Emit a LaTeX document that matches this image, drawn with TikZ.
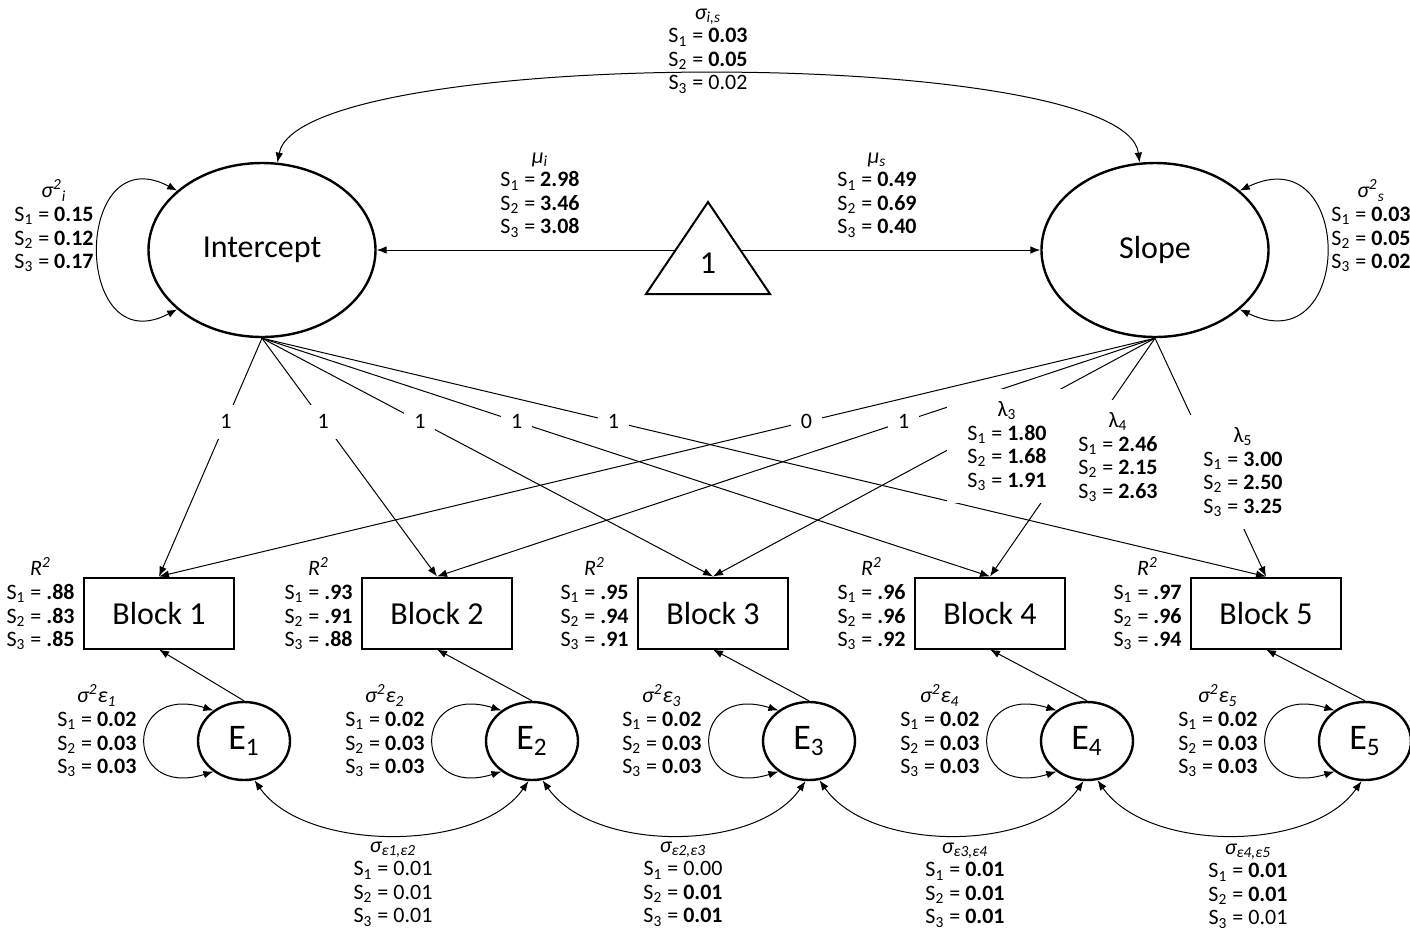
\documentclass[tikz,border=0pt]{standalone}
\usepackage{fontspec}
\setmainfont{Carlito}
\usepackage{tikz}
\usetikzlibrary{arrows.meta,shapes.geometric,positioning}

\newcommand{\sval}[2]{S\textsubscript{#1} = \textbf{#2}}
\newcommand{\sreg}[2]{S\textsubscript{#1} = #2}

\begin{document}
\begin{tikzpicture}[x=0.5pt, y=-0.5pt, >={Latex[length=5pt,width=3.8pt]},
  latent/.style={draw, ellipse, line width=1.2pt, minimum width=113.5pt, minimum height=87pt, inner sep=0pt, font=\fontsize{16}{18}\selectfont},
  block/.style={draw, rectangle, line width=1pt, minimum width=75pt, minimum height=35.5pt, inner sep=0pt, font=\fontsize{16}{18}\selectfont},
  err/.style={draw, ellipse, line width=1.2pt, minimum width=46pt, minimum height=39pt, inner sep=0pt, font=\fontsize{18}{20}\selectfont},
  est/.style={align=center, font=\fontsize{11}{11.8}\selectfont, inner sep=1pt},
  lam/.style={est, fill=white, inner xsep=10pt, inner ysep=6pt},
  load/.style={->, line width=0.5pt},
  cov/.style={<->, line width=0.5pt},
  wt/.style={fill=white, font=\fontsize{11}{13}\selectfont, inner sep=5pt}]
\useasboundingbox (0,0) rectangle (1410,933);
%%%%% Latent factors %%%%%
\node[latent] (icpt) at (262,250) {Intercept};
\node[latent] (slope) at (1155,250) {Slope};
\draw[line width=1pt] (708,202) -- (646,294) -- (770,294) -- cycle;
\node[font=\fontsize{16}{18}\selectfont] (one) at (708,263) {1};
\coordinate (triL) at (676,250);
\coordinate (triR) at (740,250);
%%%%% Blocks and errors %%%%%
\foreach \i/\x in {1/159,2/437,3/713,4/990,5/1266}
  \node[block] (b\i) at (\x,613) {Block \i};
\foreach \i/\x in {1/244,2/532,3/809,4/1087,5/1365}
  \node[err] (e\i) at (\x,741) {E\textsubscript{\i}};
%%%%% Means and variances %%%%%
\draw[load] (triL) -- (icpt.east);
\draw[load] (triR) -- (slope.west);
\draw[cov] (icpt.80) .. controls (300,45) and (1125,45) .. (slope.100);
\draw[cov] (icpt.145) .. controls +(-105,-55) and +(-105,55) .. (icpt.215);
\draw[cov] (slope.35) .. controls +(115,-55) and +(115,55) .. (slope.-35);
%%%%% Loadings %%%%%
\foreach \i in {1,...,5}
  \draw[load] (icpt.south) -- node[wt, pos=.35] {1} (b\i.north);
\draw[load] (slope.south) -- node[wt, pos=.35] {0} (b1.north);
\draw[load] (slope.south) -- node[wt, pos=.35] {1} (b2.north);
\foreach \i in {3,4,5}
  \draw[load] (slope.south) -- (b\i.north);
%%%%% Residuals %%%%%
\foreach \i in {1,...,5}{
  \draw[load] (e\i.north) -- (b\i.south);
  \draw[cov] (e\i.135) .. controls +(-90,-28) and +(-90,28) .. (e\i.225);
}
\foreach \i/\j in {1/2,2/3,3/4,4/5}
  \draw[cov] (e\i.-75) .. controls +(50,72) and +(-50,72) .. (e\j.-95);
%%%%% Estimates %%%%%
\node[est] (cis) at (708,51) {\textit{σ\textsubscript{i,s}}\\ \sval{1}{0.03}\\ \sval{2}{0.05}\\ \sreg{3}{0.02}};
\node[est] (vi) at (54,226) {\textit{σ\textsuperscript{2}\textsubscript{i}}\\ \sval{1}{0.15}\\ \sval{2}{0.12}\\ \sval{3}{0.17}};
\node[est] (mi) at (540,195) {\textit{μ\textsubscript{i}}\\ \sval{1}{2.98}\\ \sval{2}{3.46}\\ \sval{3}{3.08}};
\node[est] (ms) at (877,195) {\textit{μ\textsubscript{s}}\\ \sval{1}{0.49}\\ \sval{2}{0.69}\\ \sval{3}{0.40}};
\node[est] (vs) at (1371,226) {\textit{σ\textsuperscript{2}\textsubscript{s}}\\ \sval{1}{0.03}\\ \sval{2}{0.05}\\ \sval{3}{0.02}};
\node[lam] (l3) at (1007,446) {λ\textsubscript{3}\\ \sval{1}{1.80}\\ \sval{2}{1.68}\\ \sval{3}{1.91}};
\node[lam] (l4) at (1118,457) {λ\textsubscript{4}\\ \sval{1}{2.46}\\ \sval{2}{2.15}\\ \sval{3}{2.63}};
\node[lam] (l5) at (1243,472) {λ\textsubscript{5}\\ \sval{1}{3.00}\\ \sval{2}{2.50}\\ \sval{3}{3.25}};
\foreach \i/\a/\b/\c in {1/.88/.83/.85,2/.93/.91/.88,3/.95/.94/.91,4/.96/.96/.92,5/.97/.96/.94}
  \node[est, left=3pt of b\i, yshift=4.5pt] (r\i) {\textit{R\textsuperscript{2}}\\ \sval{1}{\a}\\ \sval{2}{\b}\\ \sval{3}{\c}};
\foreach \i in {1,...,5}
  \node[est, left=29pt of e\i, yshift=5pt] (ve\i) {\textit{σ\textsuperscript{2}ε\textsubscript{\i}}\\ \sval{1}{0.02}\\ \sval{2}{0.03}\\ \sval{3}{0.03}};
\node[est] (c12) at (393,884) {\textit{σ\textsubscript{ε1,ε2}}\\ \sreg{1}{0.01}\\ \sreg{2}{0.01}\\ \sreg{3}{0.01}};
\node[est] (c23) at (683,884) {\textit{σ\textsubscript{ε2,ε3}}\\ \sreg{1}{0.00}\\ \sval{2}{0.01}\\ \sval{3}{0.01}};
\node[est] (c34) at (965,885) {\textit{σ\textsubscript{ε3,ε4}}\\ \sval{1}{0.01}\\ \sval{2}{0.01}\\ \sval{3}{0.01}};
\node[est] (c45) at (1248,886) {\textit{σ\textsubscript{ε4,ε5}}\\ \sval{1}{0.01}\\ \sval{2}{0.01}\\ \sreg{3}{0.01}};
\end{tikzpicture}
\end{document}
